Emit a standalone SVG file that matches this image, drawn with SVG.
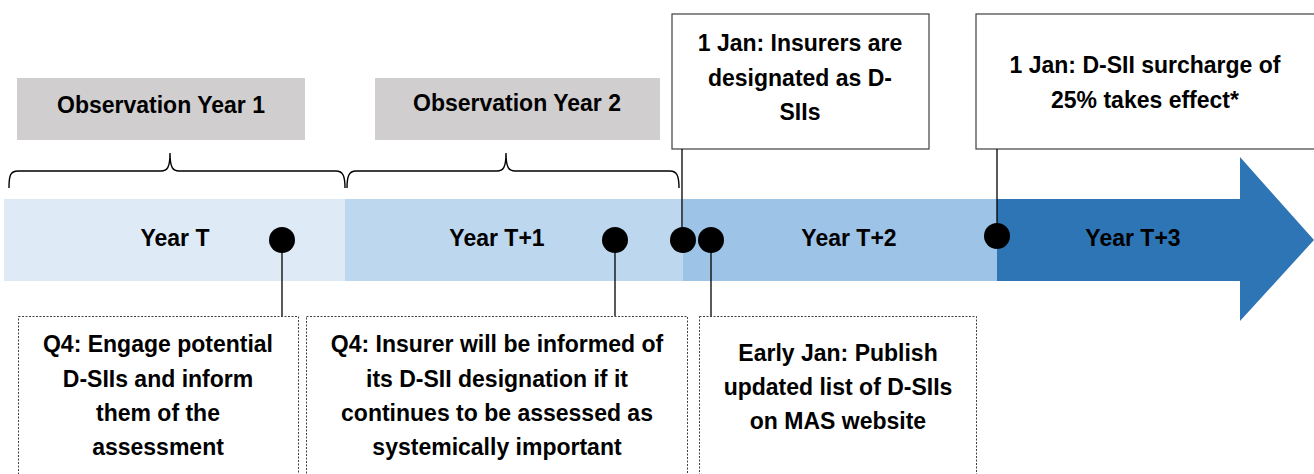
<svg xmlns="http://www.w3.org/2000/svg" width="1314" height="474" viewBox="0 0 1314 474">
<style>
text{font-family:"Liberation Sans",Arial,sans-serif;font-weight:bold;font-size:23px;fill:#000;text-anchor:middle}
.obs{fill:#D0CECE}
.solid{fill:#fff;stroke:#404040;stroke-width:1.2}
.dot{fill:#fff;stroke:#404040;stroke-width:1;stroke-dasharray:2 1.5}
.pin{fill:#000}
.lead{stroke:#000;stroke-width:1.3;fill:none}
.brace{stroke:#000;stroke-width:1.4;fill:none}
</style>
<g id="timeline">
<rect x="4" y="199" width="341" height="82" fill="#DEEBF7"/>
<rect x="345" y="199" width="338" height="82" fill="#BDD7EE"/>
<rect x="683" y="199" width="314" height="82" fill="#9DC3E6"/>
<polygon points="997,199 1240,199 1240,157 1314,240 1314,240 1240,321 1240,281 997,281" fill="#2E75B6"/>
<text x="175" y="246">Year T</text>
<text x="497" y="246">Year T+1</text>
<text x="849" y="246">Year T+2</text>
<text x="1133" y="246">Year T+3</text>
</g>
<g id="obs1"><rect class="obs" x="17" y="78" width="288" height="62"/><text x="161" y="113">Observation Year 1</text></g>
<g id="obs2"><rect class="obs" x="375" y="78" width="285" height="62"/><text x="517" y="111">Observation Year 2</text></g>
<g id="braces">
<path class="brace" d="M9,188 C9,176 10,171 18,171 L161,171 C167,171 170,168 170,153 C170,168 173,171 179,171 L336,171 C343,171 345,176 345,188"/>
<path class="brace" d="M347,188 C347,176 349,171 356,171 L497,171 C503,171 506,168 506,153 C506,168 509,171 515,171 L670,171 C677,171 679,176 679,188"/>
</g>
<g id="box-designate"><rect class="solid" x="672" y="14" width="257" height="135"/>
<text x="800" y="51">1 Jan: Insurers are</text><text x="800" y="86">designated as D-</text><text x="800" y="120">SIIs</text></g>
<g id="box-surcharge"><rect class="solid" x="976" y="14" width="340" height="135"/>
<text x="1145" y="73">1 Jan: D-SII surcharge of</text><text x="1145" y="108">25% takes effect*</text></g>
<g id="box-q4-engage"><rect class="dot" x="18.5" y="316.5" width="280" height="170"/>
<text x="158" y="352">Q4: Engage potential</text><text x="158" y="387">D-SIIs and inform</text><text x="158" y="421">them of the</text><text x="158" y="455">assessment</text></g>
<g id="box-q4-inform"><rect class="dot" x="306.5" y="316.5" width="381" height="170"/>
<text x="497" y="352">Q4: Insurer will be informed of</text><text x="497" y="387">its D-SII designation if it</text><text x="497" y="421">continues to be assessed as</text><text x="497" y="455">systemically important</text></g>
<g id="box-publish"><rect class="dot" x="699.5" y="316.5" width="277" height="170"/>
<text x="838" y="361">Early Jan: Publish</text><text x="838" y="395">updated list of D-SIIs</text><text x="838" y="429">on MAS website</text></g>
<g id="connectors">
<line class="lead" x1="282" y1="240" x2="282" y2="316"/>
<line class="lead" x1="615" y1="240" x2="615" y2="316"/>
<line class="lead" x1="711" y1="240" x2="711" y2="316"/>
<line class="lead" x1="682" y1="149" x2="682" y2="240"/>
<line class="lead" x1="997" y1="149" x2="997" y2="236"/>
<circle class="pin" cx="282" cy="240" r="13"/>
<circle class="pin" cx="615" cy="240" r="13"/>
<circle class="pin" cx="683" cy="240" r="13"/>
<circle class="pin" cx="711" cy="240" r="13"/>
<circle class="pin" cx="997" cy="236" r="13"/>
</g>
</svg>
